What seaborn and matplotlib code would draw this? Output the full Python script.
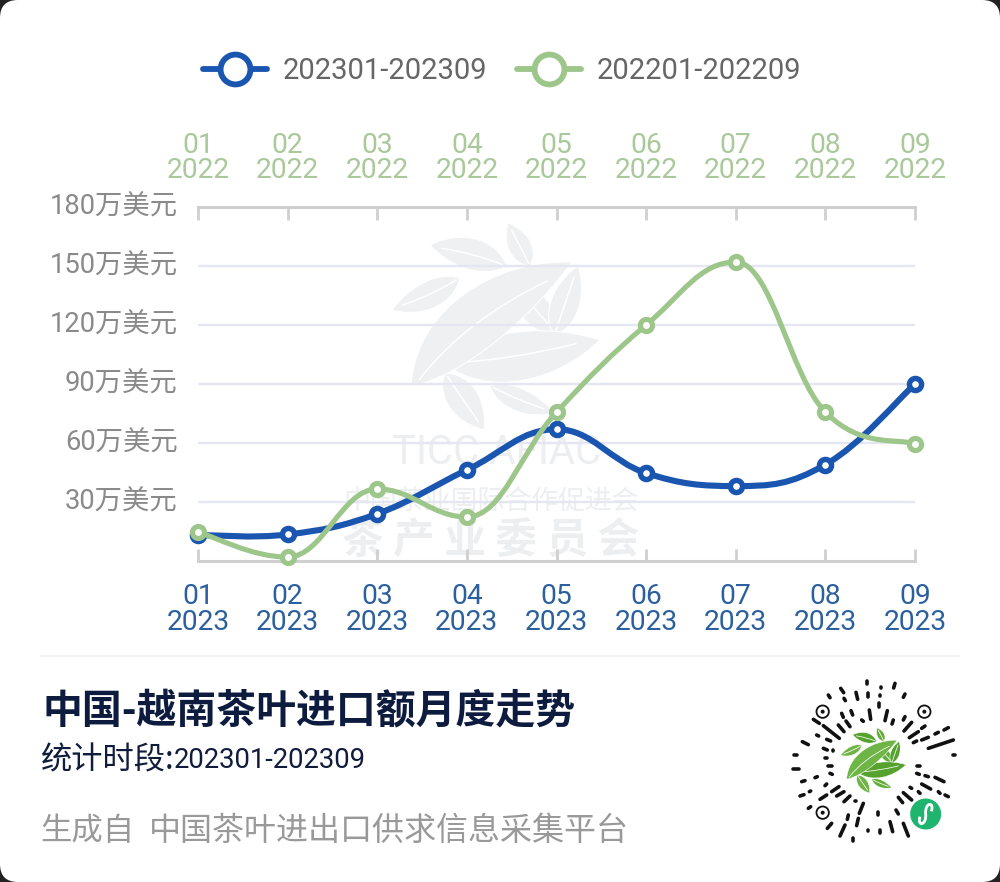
import numpy as np, pandas as pd
import matplotlib
matplotlib.use("Agg")
import matplotlib.pyplot as plt
import seaborn as sns
from matplotlib.path import Path
from matplotlib.patches import PathPatch, FancyBboxPatch, Circle
from matplotlib.lines import Line2D
from matplotlib.transforms import ScaledTranslation

months = ["01", "02", "03", "04", "05", "06", "07", "08", "09"]
series_2023 = [13.2, 13.5, 24.0, 46.3, 67.0, 44.7, 38.1, 49.0, 90.0]
series_2022 = [14.7, 2.0, 36.6, 22.4, 75.7, 120.0, 152.0, 75.7, 59.5]
name_2023 = "202301-202309"
name_2022 = "202201-202209"
y_ticks = [0, 30, 60, 90, 120, 150, 180]
y_labels = ["", "30万美元", "60万美元", "90万美元", "120万美元", "150万美元", "180万美元"]
title = "中国-越南茶叶进口额月度走势"

BLUE, GREEN = "#1a56b0", "#9dc68b"
FONT = ["Roboto", "Noto Sans CJK SC"]
CJK = ["Noto Sans CJK SC", "Roboto"]

sns.set_theme(style="white")
plt.rcParams["font.family"] = FONT
plt.rcParams["axes.unicode_minus"] = False

W, H = 1000, 882
fig = plt.figure(figsize=(W / 100, H / 100), dpi=100, facecolor="#222222")

# page layer in pixel coordinates
bg = fig.add_axes([0, 0, 1, 1], zorder=0)
bg.set_xlim(0, W); bg.set_ylim(H, 0); bg.axis("off")
bg.add_patch(FancyBboxPatch((0, 0), W, H, boxstyle="round,pad=0,rounding_size=18", fc="white", ec="none"))
bg.plot([40, 960], [656, 656], color="#f0f0f0", lw=1.2)


def leaf(ax, base, tip, w, color, vein="white", scale=1, org=(0, 0), c=(0, 0), bend=0.0, z=1):
    b = np.array(base, float); t = np.array(tip, float)
    f = lambda p: (np.array(p) - np.array(org)) * scale + np.array(c)
    d = t - b
    n = np.array([-d[1], d[0]]) / np.hypot(*d)
    p1 = b + d * .25 + n * (w + bend); p2 = b + d * .70 + n * (w * .8 + bend)
    p3 = b + d * .70 - n * (w * .8 - bend); p4 = b + d * .25 - n * (w - bend)
    verts = [f(b), f(p1), f(p2), f(t), f(p3), f(p4), f(b)]
    codes = [Path.MOVETO] + [Path.CURVE4] * 6
    ax.add_patch(PathPatch(Path(verts, codes), fc=color, ec=vein, lw=0.8 * max(scale, .5), zorder=z))
    m1 = b + d * .4 + n * bend * 1.2
    ax.add_patch(PathPatch(Path([f(b + d * .05), f(m1), f(b + d * .85)], [Path.MOVETO, Path.CURVE3, Path.CURVE3]),
                           fc="none", ec=vein, lw=1.1 * max(scale, .5), zorder=z))


LEAVES = [  # base, tip, half-width, bend
    ((530, 266), (508, 223), 17, 0),
    ((507, 266), (430, 245), 23, 3),
    ((460, 278), (392, 310), 20, -3),
    ((513, 283), (560, 338), 22, 0),
    ((554, 336), (578, 266), 21, 0),
    ((445, 373), (484, 430), 23, 0),
    ((490, 386), (554, 413), 17, 2),
    ((445, 364), (600, 340), 36, 5),
    ((411, 386), (572, 262), 42, -16),
]
for i, (b, t, w, bd) in enumerate(LEAVES):
    leaf(bg, b, t, w, "#eef0f1", bend=bd)
    g = ["#63ad3a", "#55a22f", "#6fb545"][i % 3]
    leaf(bg, b, t, w, g, scale=0.315, org=(495, 325), c=(873, 760), bend=bd, z=2)

wm = "#eceef0"
bg.text(497, 453, "TICC AFIAC", color=wm, fontsize=29, ha="center", va="center", family="Roboto", zorder=1)
bg.text(491, 501, "中国茶业国际合作促进会", color=wm, fontsize=19.4, ha="center", va="center", family=CJK, zorder=1)
bg.text(491, 541, "茶 产 业 委 员 会", color=wm, fontsize=30, weight="bold", ha="center", va="center", family=CJK, zorder=1)

# footer text
bg.text(43, 711, title, color="#0d1b3e", fontsize=28.7, weight="bold", family=CJK, ha="left", va="center")
bg.text(41, 760, "统计时段:", color="#101c3c", fontsize=22.5, family=CJK, ha="left", va="center")
bg.text(174, 760, name_2023, color="#101c3c", fontsize=19.8, family=FONT, ha="left", va="center")
bg.text(40, 831, "生成自", color="#999999", fontsize=22.6, family=CJK, ha="left", va="center")
bg.text(149, 831, "中国茶叶进出口供求信息采集平台", color="#999999", fontsize=23.05, family=CJK, ha="left", va="center")

# mini-program code
QR = [(291,62,291,72),(332,82,332,84),(375,70,371,84),(212,85,221,98),(367,98,367,98),(405,102,400,112),(175,105,180,113),
(222,115,226,122),(258,97,263,118),(295,100,295,110),(330,105,330,108),(440,122,440,122),(395,127,395,127),(328,130,328,140),
(265,133,265,133),(293,127,293,127),(360,135,360,135),(195,137,195,137),(425,145,425,145),(215,160,220,172),(243,152,248,165),
(298,150,302,178),(352,152,345,182),(383,155,383,155),(405,170,400,180),(370,180,366,192),(325,177,325,177),(275,180,280,184),
(258,188,258,188),(497,178,497,178),(130,178,148,190),(185,180,185,180),(228,183,240,200),(205,195,222,215),(160,197,208,235),
(425,187,402,213),(445,215,418,233),(465,198,455,205),(120,215,120,215),(140,225,146,228),(170,238,182,243),(495,222,505,217),
(522,210,535,203),(455,240,475,232),(430,248,440,243),(97,245,115,254),(132,258,132,258),(160,265,172,270),(190,272,190,270),
(475,265,550,240),(438,270,438,270),(72,285,82,285),(110,288,110,288),(127,290,127,290),(165,293,170,293),(185,295,185,295),
(438,297,438,297),(470,292,470,292),(490,290,490,290),(510,288,510,288),(528,287,528,287),(548,285,556,285),(70,326,88,326),
(118,323,118,323),(140,322,140,322),(158,320,158,320),(175,318,185,318),(440,318,450,318),(537,325,537,325),(440,340,448,343),
(465,347,475,350),(495,352,522,365),(135,353,142,350),(95,365,105,362),(180,340,187,343),(195,362,195,362),(430,360,430,360),
(165,377,170,372),(455,372,482,387),(420,382,425,385),(445,395,450,400),(90,408,102,404),(118,395,122,393),(135,387,135,387),
(185,395,207,380),(150,418,170,405),(400,398,425,420),(385,412,398,428),(505,395,510,400),(525,405,535,410),(200,408,222,395),
(222,425,240,408),(115,445,122,440),(255,422,258,422),(365,423,365,423),(345,430,345,430),(323,435,323,435),(300,435,300,435),
(268,460,280,430),(298,455,298,455),(325,455,325,465),(350,445,350,445),(378,450,385,462),(205,460,205,460),(298,470,298,470),
(355,468,355,468),(235,465,232,478),(265,475,260,497),(172,505,185,490),(225,495,210,528),(360,485,368,515),(400,490,415,528),
(330,510,330,520),(293,510,293,512),(293,530,293,530),(250,535,250,543)]
qx = lambda v: 770 + v / 3
qy = lambda v: 660 + v / 3
for a, b, c, d in QR:
    bg.add_line(Line2D([qx(a), qx(c)], [qy(b), qy(d)], color="#111111", lw=2.6, solid_capstyle="round"))
for cx, cy in [(158, 155), (463, 155), (158, 458)]:
    bg.add_patch(Circle((qx(cx), qy(cy)), 6.2, fc="none", ec="#111111", lw=1.3))
    bg.add_patch(Circle((qx(cx), qy(cy)), 2.0, fc="#111111", ec="none"))
bg.add_patch(Circle((qx(467), qy(462)), 15.5, fc="#1fb56e", ec="none", zorder=3))
s = Path([(qx(450), qy(470)), (qx(440), qy(500)), (qx(470), qy(498)), (qx(467), qy(462)),
          (qx(464), qy(426)), (qx(494), qy(424)), (qx(484), qy(454))],
         [Path.MOVETO] + [Path.CURVE4] * 6)
bg.add_patch(PathPatch(s, fc="none", ec="white", lw=2.0, zorder=4))

# chart
ax = fig.add_axes([198 / W, (H - 561) / H, 717 / W, 354 / H], zorder=2)
ax.patch.set_alpha(0)
x = np.arange(len(months))
df = pd.concat([
    pd.DataFrame({"x": x, "value": series_2023, "series": name_2023}),
    pd.DataFrame({"x": x, "value": series_2022, "series": name_2022}),
])


def curve_path(xs, ys, a=0.2):
    """Smooth curve through the points: tangents from neighbours, flat at local extremes."""
    n = len(xs)
    verts = [(xs[0], ys[0])]
    def mid(i):
        return 0 < i < n - 1 and not (min(ys[i-1], ys[i+1]) < ys[i] < max(ys[i-1], ys[i+1]))
    for i in range(n - 1):
        if i == 0:
            ax_, ay_ = xs[0] + (xs[1] - xs[0]) * a, ys[0] + (ys[1] - ys[0]) * a
        else:
            ax_, ay_ = xs[i] + (xs[i+1] - xs[i-1]) * a, ys[i] + (ys[i+1] - ys[i-1]) * a
        if i >= n - 2:
            bx_, by_ = xs[-1] - (xs[-1] - xs[-2]) * a, ys[-1] - (ys[-1] - ys[-2]) * a
        else:
            bx_, by_ = xs[i+1] - (xs[i+2] - xs[i]) * a, ys[i+1] - (ys[i+2] - ys[i]) * a
        if mid(i + 1):
            by_ = ys[i + 1]
        if mid(i):
            ay_ = ys[i]
        verts += [(ax_, ay_), (bx_, by_), (xs[i + 1], ys[i + 1])]
    return Path(verts, [Path.MOVETO] + [Path.CURVE4] * (3 * (n - 1)))


for vals, col, lw, z in [(series_2023, BLUE, 4.4, 5), (series_2022, GREEN, 3.7, 7)]:
    ax.add_patch(PathPatch(curve_path(x, vals), fc="none", ec=col, lw=lw, zorder=z, clip_on=False, capstyle="round"))

for name, col, lw, z in [(name_2023, BLUE, 3.9, 6), (name_2022, GREEN, 3.7, 8)]:
    sns.scatterplot(data=df[df.series == name], x="x", y="value", ax=ax, s=76, color="white",
                    edgecolor=col, linewidth=lw, zorder=z, clip_on=False, legend=False)

ax.set_xlim(0, 8); ax.set_ylim(0, 180)
ax.set_xlabel(""); ax.set_ylabel("")
for y in y_ticks[1:-1]:
    ax.axhline(y, color="#e4e6f1", lw=1.7, zorder=2)
for k in ["left", "right"]:
    ax.spines[k].set_visible(False)
for k in ["top", "bottom"]:
    ax.spines[k].set_visible(True)
    ax.spines[k].set_color("#cfcfcf"); ax.spines[k].set_linewidth(2.2)

ax.set_yticks(y_ticks, y_labels)
ax.tick_params(axis="y", length=0, pad=14.5, labelsize=19.7, labelcolor="#8a8a8a")
lift = ScaledTranslation(0, 2.6 / 100, fig.dpi_scale_trans)
for t in ax.get_yticklabels():
    t.set_fontfamily(FONT)
    t.set_transform(t.get_transform() + lift)
ax.set_xticks(x, [f"{m}\n2023" for m in months])
ax.tick_params(axis="x", direction="in", length=9, width=2, color="#cfcfcf", pad=15.8, labelsize=20.3, labelcolor="#2c5f9e")
for t in ax.get_xticklabels():
    t.set_linespacing(0.95)

top = ax.twiny()
top.set_position(ax.get_position()); top.patch.set_alpha(0)
top.set_xlim(0, 8)
top.set_xticks(x, [f"{m}\n2022" for m in months])
top.tick_params(axis="x", direction="in", length=9, width=2, color="#cfcfcf", pad=16.5, labelsize=20.3, labelcolor="#a9c99a")
for t in top.get_xticklabels():
    t.set_linespacing(0.92)
for k, sp in top.spines.items():
    sp.set_visible(False)

handles = [Line2D([], [], color=c, lw=4.2, marker="o", ms=21.5, mfc="white", mec=c, mew=4.2, label=l)
           for c, l in [(BLUE, name_2023), (GREEN, name_2022)]]
leg = fig.legend(handles=handles, ncol=2, loc="center", bbox_to_anchor=(502 / W, 1 - 71 / H), frameon=False,
                 fontsize=21, handlelength=2.2, handletextpad=0.55, columnspacing=1.0, labelcolor="#666666", borderpad=0)
leg.set_zorder(5)

fig.savefig("out.png", dpi=100, facecolor=fig.get_facecolor())
